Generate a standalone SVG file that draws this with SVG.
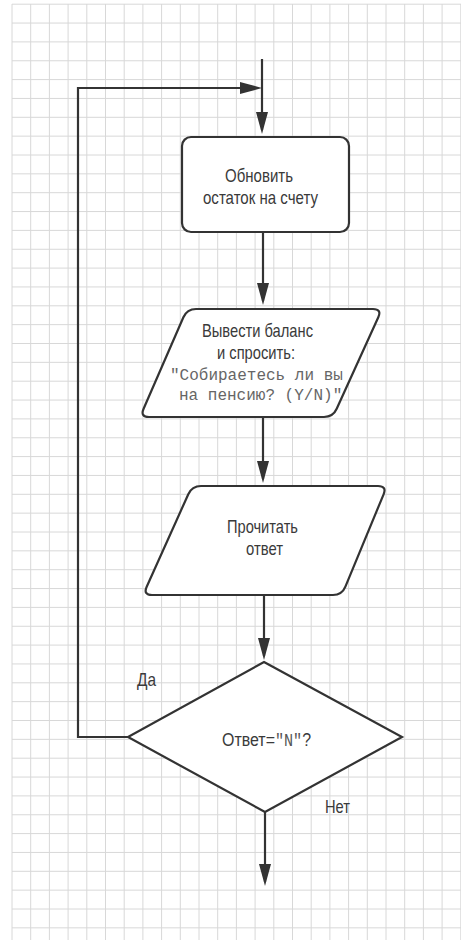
<svg xmlns="http://www.w3.org/2000/svg" width="461" height="940" viewBox="0 0 461 940">
<style>
.grid{stroke:#d8d8d8;stroke-width:1;fill:none}
.shape{fill:#ffffff;stroke:#333333;stroke-width:2.2}
.conn{fill:none;stroke:#333333;stroke-width:2.2}
.t{font-family:"Liberation Sans",Arial,sans-serif;font-size:19px;fill:#3a3a3a}
.m{font-family:"Liberation Mono","Courier New",monospace;font-size:16px;fill:#666666}
</style>
<defs>
<marker id="arr" viewBox="0 0 22 12" refX="18" refY="6" markerWidth="22" markerHeight="12" markerUnits="userSpaceOnUse" orient="auto">
<path d="M0,0 L22,6 L0,12 Z" fill="#333333"/>
</marker>
</defs>
<rect x="0" y="0" width="461" height="940" fill="#ffffff"/>
<g id="grid" class="grid">
<path d="M12,4V940M30.7,4V940M49.4,4V940M68.1,4V940M86.8,4V940M105.5,4V940M124.2,4V940M142.9,4V940M161.6,4V940M180.3,4V940M199,4V940M217.7,4V940M236.4,4V940M255.1,4V940M273.8,4V940M292.5,4V940M311.2,4V940M329.9,4V940M348.6,4V940M367.3,4V940M386,4V940M404.7,4V940M423.4,4V940M442.1,4V940M460.8,4V940"/>
<path d="M12,4.2H461M12,23.05H461M12,41.9H461M12,60.75H461M12,79.6H461M12,98.45H461M12,117.3H461M12,136.15H461M12,155H461M12,173.85H461M12,192.7H461M12,211.55H461M12,230.4H461M12,249.25H461M12,268.1H461M12,286.95H461M12,305.8H461M12,324.65H461M12,343.5H461M12,362.35H461M12,381.2H461M12,400.05H461M12,418.9H461M12,437.75H461M12,456.6H461M12,475.45H461M12,494.3H461M12,513.15H461M12,532H461M12,550.85H461M12,569.7H461M12,588.55H461M12,607.4H461M12,626.25H461M12,645.1H461M12,663.95H461M12,682.8H461M12,701.65H461M12,720.5H461M12,739.35H461M12,758.2H461M12,777.05H461M12,795.9H461M12,814.75H461M12,833.6H461M12,852.45H461M12,871.3H461M12,890.15H461M12,909H461M12,927.85H461"/>
</g>
<g id="connectors">
<path class="conn" d="M262,59 V130" marker-end="url(#arr)"/>
<path class="conn" d="M128,737 H78 V88 H258" marker-end="url(#arr)"/>
<path class="conn" d="M263,232 V301" marker-end="url(#arr)"/>
<path class="conn" d="M263,417 V479" marker-end="url(#arr)"/>
<path class="conn" d="M264,595 V656" marker-end="url(#arr)"/>
<path class="conn" d="M265,812 V882" marker-end="url(#arr)"/>
</g>
<g id="update">
<rect class="shape" x="182" y="137" width="167" height="95" rx="9"/>
<text class="t" x="225" y="182" textLength="68" lengthAdjust="spacingAndGlyphs">Обновить</text>
<text class="t" x="203" y="204" textLength="115" lengthAdjust="spacingAndGlyphs">остаток на счету</text>
</g>
<g id="output">
<path class="shape" d="M196,309 L373,309 Q382,309 378.3,317.2 L336.7,408.8 Q333,417 324,417 L149,417 Q140,417 143.6,408.7 L183.4,317.3 Q187,309 196,309 Z"/>
<text class="t" x="202" y="337" textLength="111" lengthAdjust="spacingAndGlyphs">Вывести баланс</text>
<text class="t" x="217" y="359" textLength="78" lengthAdjust="spacingAndGlyphs">и спросить:</text>
<text class="m" x="170" y="380">"Собираетесь ли вы</text>
<text class="m" x="179" y="400">на пенсию? (Y/N)"</text>
</g>
<g id="read">
<path class="shape" d="M201,486 L378,486 Q387,486 383.6,494.3 L345.4,586.7 Q342,595 333,595 L152,595 Q143,595 146.7,586.8 L188.3,494.2 Q192,486 201,486 Z"/>
<text class="t" x="227" y="533" textLength="71" lengthAdjust="spacingAndGlyphs">Прочитать</text>
<text class="t" x="246" y="555" textLength="37" lengthAdjust="spacingAndGlyphs">ответ</text>
</g>
<g id="decision">
<path class="shape" d="M264,662 L402,737 L265,812 L128,737 Z"/>
<text class="t" transform="translate(222,746) scale(0.84,1)" x="0" y="0">Ответ=<tspan style="font-family:'Liberation Mono','Courier New',monospace;font-size:18px;fill:#555555">"N"</tspan>?</text>
</g>
<g id="labels">
<text class="t" x="137" y="686" textLength="19" lengthAdjust="spacingAndGlyphs">Да</text>
<text class="t" x="325" y="813" textLength="25" lengthAdjust="spacingAndGlyphs">Нет</text>
</g>
</svg>
